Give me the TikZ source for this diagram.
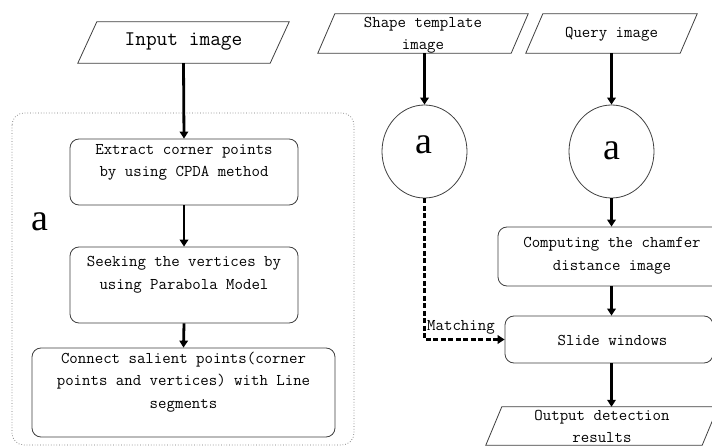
\documentclass[tikz,border=0pt]{standalone}
\usepackage{fontspec}
\newfontfamily\aserif{Liberation Serif}
\usetikzlibrary{arrows.meta,shapes.geometric}
\tikzset{
  frame/.style={draw=black!75, line width=0.8pt, rounded corners=9pt, inner sep=0pt},
  slot/.style={inner sep=0pt},
  txt/.style={inner sep=0pt, align=center, text=black, font=\ttfamily\fontsize{16.4}{22.5}\selectfont},
  bigtxt/.style={inner sep=0pt, align=center, text=black, font=\ttfamily\fontsize{20.8}{24}\selectfont},
  letter/.style={inner sep=0pt, text=black, font=\aserif\fontsize{38}{38}\selectfont},
  para/.style={draw=black!75, line width=0.8pt},
  oval/.style={draw=black!75, line width=0.8pt, ellipse, inner sep=0pt},
  flow/.style={line width=2.8pt, -{Triangle[length=7pt,width=8.5pt]}},
  dflow/.style={line width=2.8pt, dash pattern=on 5pt off 2.5pt, -{Triangle[length=7pt,width=8.5pt]}},
  container/.style={draw=black!55, line width=0.7pt, dotted, rounded corners=12pt}
}
\begin{document}
\begin{tikzpicture}[x=1pt,y=-1pt]
\useasboundingbox (0,0) rectangle (712,446);
\clip (0,0) rectangle (712,446);
\fill[white] (0,0) rectangle (712,446);

% container
\draw[container] (12,113) rectangle (354,445);
\node[letter] (aleft) at (40,222) {a};

% Input image
\node[slot, minimum width=211, minimum height=41] (in) at (183.5,42.5) {};
\draw[para] ([xshift=19pt]in.north west) -- (in.north east) -- ([xshift=-19pt]in.south east) -- (in.south west) -- cycle;
\node[bigtxt] (intxt) at (183.5,42) {Input image};

% left column boxes
\node[frame, minimum width=228, minimum height=66] (ext) at (184,172) {};
\node[txt] (exttxt) at (184,162.5) {Extract corner points\\ by using CPDA method};
\node[frame, minimum width=228, minimum height=76] (seek) at (184,285) {};
\node[txt] (seektxt) at (184,275) {Seeking the vertices by\\using Parabola Model};
\node[frame, minimum width=303, minimum height=89] (conn) at (183.5,392.5) {};
\node[txt] (conntxt) at (183.5,382) {Connect salient points(corner\\points and vertices) with Line\\segments};

% Shape template
\node[slot, minimum width=210, minimum height=39] (shp) at (423,33.5) {};
\draw[para] ([xshift=17pt]shp.north west) -- (shp.north east) -- ([xshift=-17pt]shp.south east) -- (shp.south west) -- cycle;
\node[txt] (shptxt) at (423,35.5) {Shape template\\image};

% Query image
\node[slot, minimum width=171, minimum height=39] (qry) at (611.5,33.5) {};
\draw[para] ([xshift=17pt]qry.north west) -- (qry.north east) -- ([xshift=-17pt]qry.south east) -- (qry.south west) -- cycle;
\node[txt] (qrytxt) at (611.5,34.5) {Query image};

% circles
\node[oval, minimum width=85, minimum height=93] (c1) at (424.5,151.5) {};
\node[letter] (c1txt) at (424,145) {a};
\node[oval, minimum width=85, minimum height=93] (c2) at (611.5,151.5) {};
\node[letter] (c2txt) at (612,151) {a};

% right column boxes
\node[frame, minimum width=224, minimum height=59] (cham) at (610,256.5) {};
\node[txt] (chamtxt) at (612,256) {Computing the chamfer\\distance image};
\node[frame, minimum width=208, minimum height=47] (slide) at (609,339.5) {};
\node[txt] (slidetxt) at (612.5,340) {Slide windows};

% Output
\node[slot, minimum width=232, minimum height=38] (out) at (602,426) {};
\draw[para] ([xshift=16pt]out.north west) -- (out.north east) -- ([xshift=-16pt]out.south east) -- (out.south west) -- cycle;
\node[txt] (outtxt) at (602,426.5) {Output detection\\results};

% connectors
\draw[flow] (in.south) -- (ext.north);
\draw[flow] (ext.south) -- (seek.north);
\draw[flow] (seek.south) -- (conn.north);
\draw[flow] (shp.south -| c1.north) -- (c1.north);
\draw[flow] (qry.south -| c2.north) -- (c2.north);
\draw[flow] (c2.south) -- (c2.south |- cham.north);
\draw[flow] (c2.south |- cham.south) -- (c2.south |- slide.north);
\draw[flow] (c2.south |- slide.south) -- (c2.south |- out.north);
\coordinate (bend) at (c1.south |- slide.west);
\draw[dflow] (c1.south) -- (bend) -- (slide.west);
\node[txt, anchor=south west] (match) at (427,334) {Matching};
\end{tikzpicture}
\end{document}
